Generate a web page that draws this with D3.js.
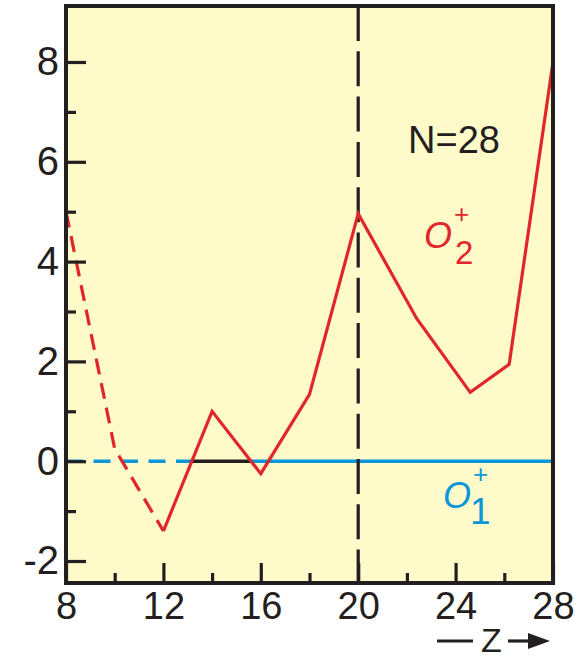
<!DOCTYPE html>
<html><head><meta charset="utf-8">
<script src="https://cdn.jsdelivr.net/npm/d3@7"></script>
<style>body{margin:0;background:#fff}svg{display:block}</style>
</head><body>
<svg id="c" width="586" height="661"></svg>
<script>
// ---- data ----
const zValues = [8, 10, 12, 14, 16, 18, 20, 22.4, 24.6, 26.2, 28];
const o2Values = [5.0, 0.25, -1.4, 1.0, -0.25, 1.34, 4.96, 2.86, 1.38, 1.94, 8.0];
const dashedUntilZ = 12;          // O2+ curve is dashed up to this Z
const o1Value = 0;                // O1+ reference level
const closedShellZ = 20;          // vertical dashed marker
const xMajorTicks = [8, 12, 16, 20, 24, 28];
const xMinorTicks = [10, 14, 18, 22, 26];
const yMajorTicks = [-2, 0, 2, 4, 6, 8];
const yMinorTicks = [-1, 1, 3, 5, 7];
const labelN = "N=28";

const svg = d3.select("#c");
const L = 66, R = 553, T = 6, B = 583;
const x = d3.scaleLinear().domain([8, 28]).range([L, R]);
const y = d3.scaleLinear().domain([-2, 8]).range([561, 62]);
const RED = "#e1262b", BLUE = "#0a96d8", INK = "#231f20";
const font = "'Liberation Sans', Arial, sans-serif";

svg.append("rect").attr("x", L).attr("y", T).attr("width", R - L).attr("height", B - T)
  .attr("fill", "#fffac9");

// zero crossings of O2+ relative to O1+
const pts = zValues.map((z, i) => ({z, v: o2Values[i]}));
const crossings = [];
for (let i = 1; i < pts.length; i++) {
  const a = pts[i - 1], b = pts[i];
  if ((a.v - o1Value) * (b.v - o1Value) < 0 && a.z >= dashedUntilZ) {
    crossings.push(a.z + (o1Value - a.v) * (b.z - a.z) / (b.v - a.v));
  }
}
const c1 = crossings[0], c2 = crossings[1];

// O1+ line
svg.append("line").attr("x1", x(8)).attr("x2", x(c1)).attr("y1", y(o1Value)).attr("y2", y(o1Value))
  .attr("stroke", BLUE).attr("stroke-width", 3.5).attr("stroke-dasharray", "17,10.5");
svg.append("line").attr("x1", x(c1)).attr("x2", x(c2)).attr("y1", y(o1Value)).attr("y2", y(o1Value))
  .attr("stroke", INK).attr("stroke-width", 3.5).attr("stroke-dasharray", "60,4,13,20");
svg.append("line").attr("x1", x(c2)).attr("x2", x(28)).attr("y1", y(o1Value)).attr("y2", y(o1Value))
  .attr("stroke", BLUE).attr("stroke-width", 3.5);

// vertical dashed marker
svg.append("line").attr("x1", x(closedShellZ)).attr("x2", x(closedShellZ)).attr("y1", T).attr("y2", B)
  .attr("stroke", INK).attr("stroke-width", 3.2).attr("stroke-dasharray", "35,10.3");

// O2+ line
const line = d3.line().x(d => x(d.z)).y(d => y(d.v));
svg.append("path").datum(pts.filter(d => d.z <= dashedUntilZ)).attr("d", line)
  .attr("fill", "none").attr("stroke", RED).attr("stroke-width", 3.2).attr("stroke-dasharray", "16,9");
svg.append("path").datum(pts.filter(d => d.z >= dashedUntilZ)).attr("d", line)
  .attr("fill", "none").attr("stroke", RED).attr("stroke-width", 3.2).attr("stroke-linejoin", "miter");

// axes
function styleAxis(g) {
  g.select(".domain").remove();
  g.selectAll(".tick line").attr("stroke", INK).attr("stroke-width", 3.2);
  g.selectAll(".tick text").attr("fill", INK).attr("font-family", font);
}
svg.append("g").attr("transform", `translate(0,${B})`)
  .call(d3.axisBottom(x).tickValues(xMajorTicks).tickSizeInner(-20).tickSizeOuter(0).tickPadding(9).tickFormat(d => String(d)))
  .call(styleAxis).call(g => g.selectAll(".tick text").attr("font-size", 38));
svg.append("g").attr("transform", `translate(0,${B})`)
  .call(d3.axisBottom(x).tickValues(xMinorTicks).tickSizeInner(-10).tickSizeOuter(0).tickFormat(""))
  .call(styleAxis);
svg.append("g").attr("transform", `translate(${L},0)`)
  .call(d3.axisLeft(y).tickValues(yMajorTicks).tickSizeInner(-20).tickSizeOuter(0).tickPadding(7).tickFormat(d => String(d)))
  .call(styleAxis).call(g => g.selectAll(".tick text").attr("font-size", 40));
svg.append("g").attr("transform", `translate(${L},0)`)
  .call(d3.axisLeft(y).tickValues(yMinorTicks).tickSizeInner(-10).tickSizeOuter(0).tickFormat(""))
  .call(styleAxis);

// frame
svg.append("rect").attr("x", L).attr("y", T).attr("width", R - L).attr("height", B - T)
  .attr("fill", "none").attr("stroke", INK).attr("stroke-width", 4);

// labels
svg.append("text").attr("x", 408).attr("y", 153).attr("font-family", font).attr("font-size", 38)
  .attr("fill", INK).text(labelN);

function ionLabel(xp, yp, sub, color, subSize, subDx) {
  const g = svg.append("g").attr("fill", color).attr("font-family", font);
  g.append("text").attr("x", xp).attr("y", yp).attr("font-size", 36).attr("font-style", "italic").text("O");
  g.append("text").attr("x", xp + 30).attr("y", yp - 25).attr("font-size", 26).text("+");
  g.append("text").attr("x", xp + subDx).attr("y", yp + 16).attr("font-size", subSize).text(sub);
}
ionLabel(424, 248, "2", RED, 33, 31);
ionLabel(443, 508, "1", BLUE, 37, 27);

// —Z→
svg.append("line").attr("x1", 437).attr("x2", 473).attr("y1", 641).attr("y2", 641)
  .attr("stroke", INK).attr("stroke-width", 3.2);
svg.append("text").attr("x", 481).attr("y", 652).attr("font-family", font).attr("font-size", 34)
  .attr("fill", INK).text("Z");
svg.append("line").attr("x1", 508).attr("x2", 532).attr("y1", 641).attr("y2", 641)
  .attr("stroke", INK).attr("stroke-width", 3.2);
svg.append("path").attr("d", "M528,633 L550,641 L528,649 Z").attr("fill", INK);
</script>
</body></html>
